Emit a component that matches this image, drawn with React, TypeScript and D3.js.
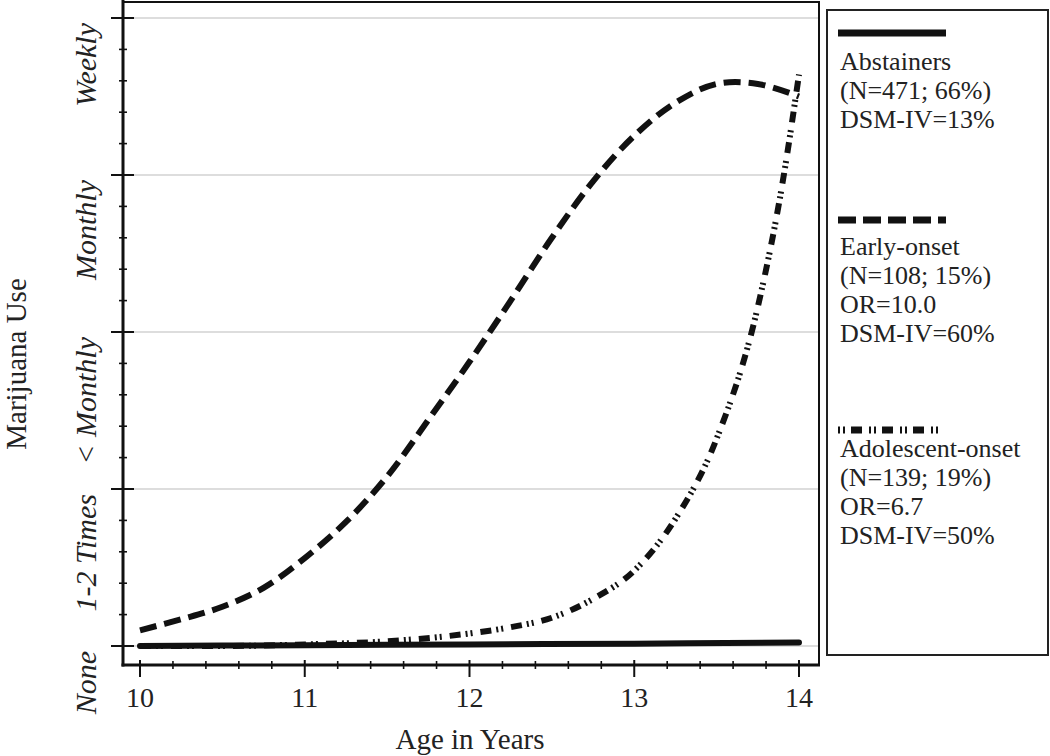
import React from "react";
import * as d3 from "d3";

// ---------- data ----------
const yLevelLabels = ["None", "1-2 Times", "< Monthly", "Monthly", "Weekly"];
const yLevelValues = [0, 1, 2, 3, 4];
const xTickValues = [10, 11, 12, 13, 14];

const abstainersAge = [10, 11, 12, 13, 14];
const abstainersUse = [0.0, 0.005, 0.01, 0.015, 0.022];

const earlyAge = [10, 10.25, 10.5, 10.75, 11, 11.25, 11.5, 11.75, 12, 12.25, 12.5, 12.75, 13, 13.25, 13.5, 13.75, 14];
const earlyUse = [0.10, 0.17, 0.25, 0.37, 0.56, 0.79, 1.08, 1.44, 1.81, 2.20, 2.60, 2.96, 3.25, 3.46, 3.58, 3.58, 3.50];

const adolAge = [10, 10.5, 11, 11.5, 12, 12.25, 12.5, 12.75, 13, 13.25, 13.5, 13.75, 13.9, 14];
const adolUse = [0.0, 0.0, 0.01, 0.03, 0.08, 0.12, 0.18, 0.30, 0.48, 0.81, 1.32, 2.16, 2.95, 3.64];

const legendAbstainers = ["Abstainers", "(N=471; 66%)", "DSM-IV=13%"];
const legendEarly = ["Early-onset", "(N=108; 15%)", "OR=10.0", "DSM-IV=60%"];
const legendAdol = ["Adolescent-onset", "(N=139; 19%)", "OR=6.7", "DSM-IV=50%"];

const xTitle = "Age in Years";
const yTitle = "Marijuana Use";

// ---------- layout ----------
const W = 1050;
const H = 756;
const axisX = 123;
const axisY = 665;
const frameTop = 2;
const frameRight = 819;
const serif = "'Liberation Serif', 'Times New Roman', serif";

const DASH_EARLY = "17 8";
const DASH_ADOL = "11 5 2 3 2 8";
const DASH_ADOL_LEG = "2 3 2 6 11 7";

export default function App() {
  const x = d3.scaleLinear().domain([10, 14]).range([140, 799]);
  const y = d3.scaleLinear().domain([0, 4]).range([646, 18]);

  const line = (ages: number[], vals: number[], curve: any) =>
    d3
      .line<number>()
      .x((_, i) => x(ages[i]))
      .y((v) => y(v))
      .curve(curve)(vals) as string;

  const xMinor = d3.range(10, 14.0001, 0.2).filter((v) => Math.abs(v - Math.round(v)) > 1e-6);
  const yMinor = d3.range(0, 4.0001, 0.2).filter((v) => Math.abs(v - Math.round(v)) > 1e-6);

  const legendX = 840;
  const legendLineX1 = 838;
  const legendLineX2 = 946;
  const lh = 29;

  const legendBlock = (lines: string[], y0: number) =>
    lines.map((t, i) => (
      <text key={t} x={legendX} y={y0 + i * lh} fontFamily={serif} fontSize={26} fill="#222">
        {t}
      </text>
    ));

  return (
    <svg width={W} height={H} style={{ position: "absolute", left: 0, top: 0, background: "#fff" }}>
      <rect x={0} y={0} width={W} height={H} fill="#fff" />
      {/* gridlines */}
      {yLevelValues.map((v) => (
        <line key={"g" + v} x1={axisX} x2={frameRight} y1={y(v)} y2={y(v)} stroke="#d2d2d2" strokeWidth={1.5} />
      ))}
      {/* frame */}
      <line x1={axisX} x2={frameRight + 1} y1={frameTop} y2={frameTop} stroke="#111" strokeWidth={2} />
      <line x1={frameRight} x2={frameRight} y1={frameTop} y2={axisY} stroke="#111" strokeWidth={2} />
      {/* axes */}
      <line x1={axisX} x2={axisX} y1={0} y2={axisY + 1.5} stroke="#111" strokeWidth={3} />
      <line x1={axisX - 1.5} x2={frameRight + 1} y1={axisY} y2={axisY} stroke="#111" strokeWidth={3} />
      {/* y ticks */}
      {yLevelValues.map((v) => (
        <line key={"yt" + v} x1={111} x2={134} y1={y(v)} y2={y(v)} stroke="#111" strokeWidth={2} />
      ))}
      {yMinor.map((v) => (
        <line key={"ym" + v} x1={119} x2={127} y1={y(v)} y2={y(v)} stroke="#111" strokeWidth={1.6} />
      ))}
      {/* x ticks */}
      {xTickValues.map((v) => (
        <line key={"xt" + v} x1={x(v)} x2={x(v)} y1={660} y2={677} stroke="#111" strokeWidth={2} />
      ))}
      {xMinor.map((v) => (
        <line key={"xm" + v} x1={x(v)} x2={x(v)} y1={661} y2={669} stroke="#111" strokeWidth={1.6} />
      ))}
      {/* x tick labels */}
      {xTickValues.map((v) => (
        <text key={"xl" + v} x={x(v)} y={707} textAnchor="middle" fontFamily={serif} fontSize={28} fill="#222">
          {v}
        </text>
      ))}
      {/* y tick labels */}
      {yLevelValues.map((v, i) => (
        <text
          key={"yl" + v}
          transform={`translate(96,${y(v) + 5}) rotate(-90)`}
          textAnchor="end"
          fontFamily={serif}
          fontStyle="italic"
          fontSize={30}
          fill="#222"
        >
          {yLevelLabels[i]}
        </text>
      ))}
      {/* titles */}
      <text x={470} y={749} textAnchor="middle" fontFamily={serif} fontSize={29} fill="#222">
        {xTitle}
      </text>
      <text transform="translate(26,364) rotate(-90)" textAnchor="middle" fontFamily={serif} fontSize={29} fill="#222">
        {yTitle}
      </text>
      {/* series */}
      <path d={line(abstainersAge, abstainersUse, d3.curveMonotoneX)} fill="none" stroke="#111" strokeWidth={6} strokeLinecap="round" />
      <path d={line(earlyAge, earlyUse, d3.curveCatmullRom)} fill="none" stroke="#111" strokeWidth={6} strokeDasharray={DASH_EARLY} />
      <path d={line(adolAge, adolUse, d3.curveMonotoneX)} fill="none" stroke="#111" strokeWidth={6} strokeDasharray={DASH_ADOL} />
      {/* legend */}
      <rect x={827} y={10} width={221} height={645} fill="none" stroke="#222" strokeWidth={2} />
      <line x1={legendLineX1} x2={legendLineX2} y1={33} y2={33} stroke="#111" strokeWidth={7} />
      {legendBlock(legendAbstainers, 70)}
      <line x1={legendLineX1} x2={legendLineX2} y1={220} y2={220} stroke="#111" strokeWidth={7} strokeDasharray="18 7" />
      {legendBlock(legendEarly, 255)}
      <line x1={legendLineX1} x2={legendLineX2 - 4} y1={430} y2={430} stroke="#111" strokeWidth={7} strokeDasharray={DASH_ADOL_LEG} />
      {legendBlock(legendAdol, 457)}
    </svg>
  );
}
